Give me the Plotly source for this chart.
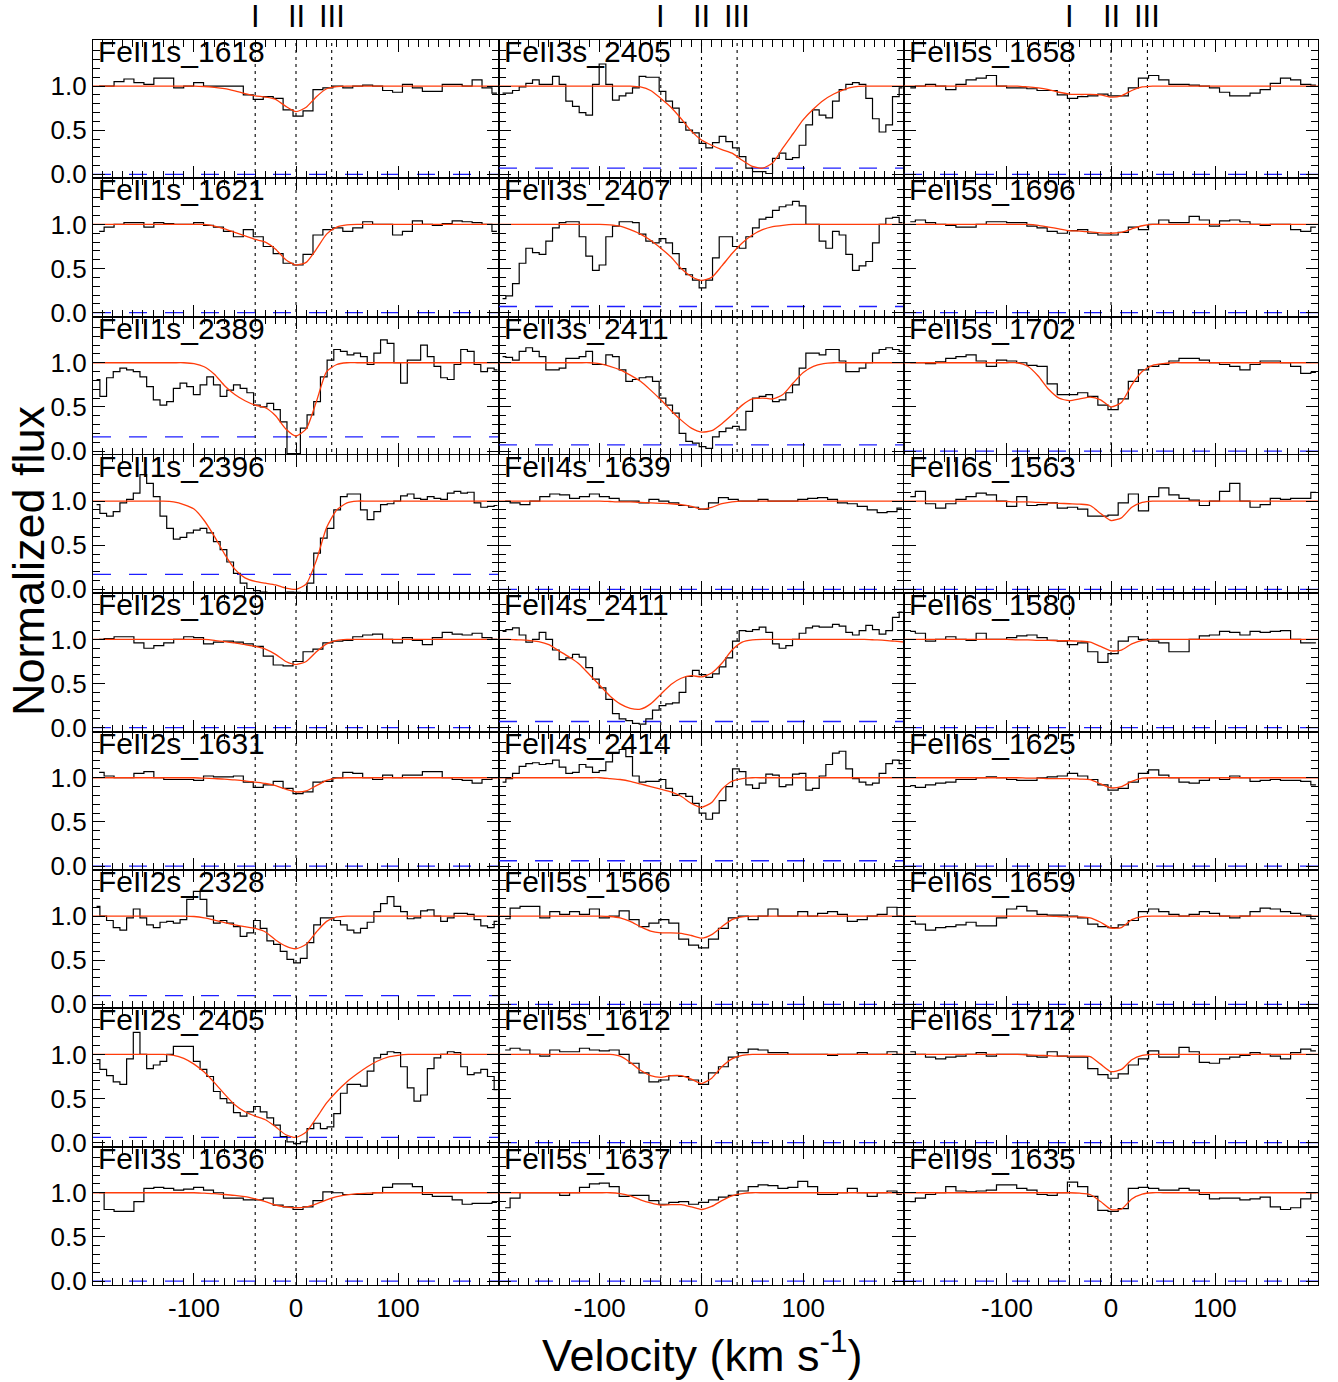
import plotly.graph_objects as go
from plotly.subplots import make_subplots

# ---------------------------------------------------------------------------
# Velocity grids (km/s): pixel centres of the two spectral samplings and the
# sampling of the fitted Voigt model.
# ---------------------------------------------------------------------------
VEL_COARSE = [-193.0, -183.2, -173.5, -163.8, -154.0, -144.2, -134.5, -124.8, -115.0, -105.2,
              -95.5, -85.8, -76.0, -66.2, -56.5, -46.8, -37.0, -27.2, -17.5, -7.8,
              2.0, 11.8, 21.5, 31.2, 41.0, 50.8, 60.5, 70.2, 80.0, 89.8,
              99.5, 109.2, 119.0, 128.8, 138.5, 148.2, 158.0, 167.8, 177.5, 187.2, 197.0]

VEL_FINE = [-195.5, -189.0, -182.4, -175.9, -169.3, -162.8, -156.2, -149.7, -143.1, -136.6,
            -130.0, -123.5, -116.9, -110.4, -103.8, -97.3, -90.7, -84.2, -77.6, -71.1,
            -64.5, -58.0, -51.4, -44.9, -38.3, -31.8, -25.2, -18.7, -12.1, -5.6,
            1.0, 7.6, 14.1, 20.7, 27.2, 33.8, 40.3, 46.9, 53.4, 60.0,
            66.5, 73.1, 79.6, 86.2, 92.7, 99.3, 105.8, 112.4, 118.9, 125.5,
            132.0, 138.6, 145.1, 151.7, 158.2, 164.8, 171.3, 177.9, 184.4, 191.0, 197.5]

VEL_MODEL = [-200, -190, -180, -170, -160, -150, -140, -130, -120, -110,
             -100, -90, -80, -70, -60, -50, -40, -30, -20, -10,
             0, 10, 20, 30, 40, 50, 60, 70, 80, 90,
             100, 110, 120, 130, 140, 150, 160, 170, 180, 190, 200]

# Component velocities (km/s) marked I, II, III
COMPONENT_VELS = [-40, 0, 35]
COMPONENT_NAMES = ["I", "II", "III"]

# ---------------------------------------------------------------------------
# Normalized flux of each transition
# ---------------------------------------------------------------------------
FLUX_1S_1618 = [1.0, 1.0, 1.05, 1.08, 1.04, 1.02, 1.09, 1.09, 0.98, 1.0,
                1.04, 1.0, 1.0, 1.0, 1.0, 0.9, 0.85, 0.88, 0.86, 0.73,
                0.66, 0.72, 0.96, 0.98, 1.0, 0.98, 1.0, 1.01, 1.0, 0.95,
                0.93, 1.02, 0.98, 0.94, 0.94, 1.02, 1.02, 1.0, 1.07, 0.98, 0.92]
FLUX_1S_1621 = [0.92, 0.97, 1.0, 1.02, 1.02, 0.97, 1.02, 1.01, 1.0, 1.0,
                1.02, 0.99, 0.97, 0.92, 0.86, 0.94, 0.86, 0.75, 0.67, 0.56,
                0.54, 0.66, 0.88, 0.94, 0.96, 0.92, 0.96, 1.03, 1.0, 1.0,
                0.88, 0.92, 1.04, 1.0, 0.99, 1.01, 1.04, 1.03, 1.02, 1.0, 0.92]
FLUX_1S_2389 = [0.81, 0.62, 0.83, 0.90, 0.94, 0.92, 0.90, 0.84, 0.73, 0.58,
                0.52, 0.56, 0.71, 0.77, 0.73, 0.64, 0.75, 0.84, 0.75, 0.62,
                0.69, 0.75, 0.71, 0.66, 0.52, 0.50, 0.54, 0.47, 0.33, -0.03,
                -0.03, 0.26, 0.41, 0.56, 0.84, 1.03, 1.15, 1.13, 1.09, 1.11,
                1.07, 0.98, 1.11, 1.26, 1.22, 1.0, 0.77, 1.03, 1.03, 1.2,
                1.07, 0.96, 0.83, 0.81, 0.98, 1.15, 1.13, 0.98, 0.90, 0.94, 0.92]
FLUX_1S_2396 = [0.96, 0.86, 0.83, 0.88, 0.98, 1.02, 1.09, 1.3, 1.2, 1.05,
                0.83, 0.69, 0.57, 0.59, 0.64, 0.67, 0.69, 0.64, 0.54, 0.45,
                0.31, 0.18, 0.07, 0.01, -0.015, -0.03, -0.04, -0.045, -0.04, -0.03,
                -0.035, -0.04, 0.07, 0.41, 0.58, 0.69, 0.9, 1.05, 1.08, 1.08,
                0.9, 0.79, 0.88, 0.96, 0.97, 1.0, 1.06, 1.08, 1.03, 1.02,
                1.05, 1.03, 1.02, 1.09, 1.11, 1.09, 1.1, 0.98, 0.93, 0.94, 0.95]
FLUX_2S_1629 = [1.0, 1.01, 1.03, 1.03, 0.96, 0.9, 0.93, 0.96, 1.0, 1.03,
                1.02, 0.95, 0.97, 0.98, 0.97, 0.95, 0.92, 0.81, 0.71, 0.7,
                0.75, 0.86, 0.89, 0.96, 0.98, 0.99, 1.03, 1.05, 1.06, 1.0,
                0.96, 1.02, 0.99, 0.94, 1.02, 1.08, 1.06, 1.05, 1.07, 1.02, 1.0]
FLUX_2S_1631 = [1.06, 1.02, 1.0, 1.0, 1.05, 1.07, 1.0, 0.98, 0.98, 0.98,
                0.97, 1.02, 1.01, 1.01, 1.02, 0.95, 0.89, 0.92, 0.96, 0.88,
                0.82, 0.84, 0.95, 0.96, 1.0, 1.06, 1.05, 1.0, 0.98, 1.03,
                1.0, 1.03, 1.03, 1.07, 1.07, 1.0, 0.98, 0.97, 0.94, 0.98, 1.0]
FLUX_2S_2328 = [1.11, 1.0, 0.95, 0.87, 0.84, 0.98, 1.08, 0.98, 0.9, 0.87,
                0.93, 0.94, 0.92, 0.96, 1.19, 1.28, 1.19, 1.0, 0.92, 0.95,
                0.92, 0.88, 0.77, 0.81, 0.95, 0.86, 0.72, 0.68, 0.6, 0.51,
                0.47, 0.52, 0.7, 0.9, 0.98, 0.98, 0.95, 0.9, 0.84, 0.81,
                0.86, 0.93, 1.05, 1.14, 1.22, 1.11, 1.05, 0.97, 0.98, 1.06,
                1.07, 1.0, 0.94, 0.98, 1.03, 1.03, 1.02, 0.96, 0.89, 0.87, 0.94]
FLUX_2S_2405 = [0.94, 0.83, 0.76, 0.69, 0.66, 0.95, 1.25, 1.0, 0.84, 0.88,
                0.92, 1.0, 1.09, 1.09, 1.09, 0.92, 0.83, 0.75, 0.58, 0.5,
                0.45, 0.34, 0.3, 0.35, 0.41, 0.35, 0.28, 0.2, 0.07, 0.01,
                -0.01, 0.01, 0.16, 0.22, 0.16, 0.18, 0.33, 0.56, 0.66, 0.66,
                0.64, 0.81, 0.96, 1.0, 1.03, 1.02, 0.86, 0.62, 0.47, 0.54,
                0.84, 0.96, 1.0, 1.03, 1.02, 0.86, 0.77, 0.79, 0.83, 0.75, 0.6]
FLUX_3S_1636 = [1.0, 0.81, 0.79, 0.79, 0.9, 1.05, 1.06, 1.05, 1.03, 1.04,
                1.06, 1.03, 1.0, 0.94, 0.94, 0.92, 0.92, 0.94, 0.86, 0.84,
                0.81, 0.84, 0.91, 1.01, 1.0, 0.98, 0.98, 0.98, 1.0, 1.06,
                1.1, 1.1, 1.07, 0.98, 0.96, 0.96, 0.92, 0.87, 0.88, 0.88, 0.89]
FLUX_3S_2405 = [0.92, 0.92, 0.95, 0.99, 1.03, 1.07, 1.02, 1.02, 1.11, 1.02,
                0.83, 0.77, 0.70, 0.67, 1.02, 1.25, 1.02, 0.84, 0.89, 0.92,
                0.98, 1.11, 1.10, 1.10, 0.94, 0.83, 0.75, 0.59, 0.50, 0.47,
                0.35, 0.30, 0.36, 0.43, 0.37, 0.30, 0.20, 0.07, 0.03, 0.03,
                0.01, 0.18, 0.24, 0.17, 0.19, 0.33, 0.56, 0.73, 0.67, 0.64,
                0.83, 0.96, 1.02, 1.04, 1.02, 0.86, 0.63, 0.48, 0.56, 0.88, 0.98]
FLUX_3S_2407 = [0.16, 0.19, 0.33, 0.56, 0.73, 0.68, 0.66, 0.81, 0.96, 1.02,
                1.03, 1.03, 0.86, 0.64, 0.48, 0.54, 0.86, 0.98, 1.03, 1.03,
                1.02, 0.89, 0.81, 0.79, 0.84, 0.79, 0.67, 0.5, 0.43, 0.37,
                0.28, 0.37, 0.62, 0.86, 0.86, 0.75, 0.73, 0.86, 0.96, 1.06,
                1.08, 1.16, 1.2, 1.22, 1.26, 1.21, 1.0, 1.0, 0.81, 0.73,
                0.92, 0.88, 0.66, 0.48, 0.53, 0.58, 0.79, 1.0, 1.07, 1.08, 1.02]
FLUX_3S_2411 = [1.07, 1.06, 1.03, 1.13, 1.17, 1.13, 1.07, 0.92, 0.92, 0.94,
                1.05, 1.05, 1.07, 1.13, 0.98, 0.98, 1.09, 1.07, 0.92, 0.79,
                0.81, 0.83, 0.84, 0.79, 0.6, 0.52, 0.43, 0.2, 0.11, 0.09,
                0.05, 0.03, 0.16, 0.22, 0.26, 0.28, 0.24, 0.45, 0.6, 0.62,
                0.64, 0.56, 0.58, 0.66, 0.75, 0.94, 1.11, 1.11, 1.09, 1.15,
                1.15, 1.02, 0.9, 0.9, 0.94, 1.0, 1.11, 1.15, 1.17, 1.15, 1.13]
FLUX_4S_1639 = [1.0, 0.98, 0.96, 1.0, 1.05, 1.08, 1.07, 1.03, 1.05, 1.08,
                1.05, 1.03, 1.0, 1.0, 0.98, 1.02, 1.0, 0.98, 0.95, 0.93,
                0.91, 0.98, 1.04, 1.02, 1.0, 1.0, 1.02, 1.0, 1.0, 1.0,
                1.02, 1.03, 1.04, 1.02, 0.98, 0.97, 0.94, 0.9, 0.87, 0.88, 0.92]
FLUX_4S_2411 = [1.09, 1.11, 1.13, 1.05, 0.97, 1.0, 1.08, 1.0, 0.88, 0.77,
                0.79, 0.83, 0.8, 0.68, 0.55, 0.45, 0.32, 0.16, 0.1, 0.08,
                0.05, 0.04, 0.1, 0.2, 0.25, 0.27, 0.28, 0.4, 0.58, 0.65,
                0.6, 0.57, 0.61, 0.69, 0.79, 0.98, 1.1, 1.09, 1.11, 1.14,
                1.08, 0.95, 0.9, 0.93, 1.0, 1.07, 1.13, 1.15, 1.14, 1.14,
                1.17, 1.15, 1.08, 1.05, 1.1, 1.16, 1.11, 1.06, 1.1, 1.25, 1.31]
FLUX_4S_2414 = [0.95, 0.99, 1.05, 1.13, 1.16, 1.17, 1.15, 1.16, 1.2, 1.12,
                1.05, 1.06, 1.15, 1.12, 1.06, 1.08, 1.18, 1.28, 1.32, 1.24,
                1.02, 0.95, 0.96, 0.96, 0.98, 0.88, 0.8, 0.82, 0.79, 0.71,
                0.6, 0.53, 0.6, 0.74, 0.9, 1.1, 1.07, 0.92, 0.88, 0.94,
                1.04, 1.03, 0.9, 0.92, 1.04, 1.05, 0.86, 0.88, 1.02, 1.15,
                1.28, 1.3, 1.1, 0.99, 0.95, 0.92, 0.94, 1.05, 1.16, 1.2, 1.16]
FLUX_5S_1566 = [0.97, 1.09, 1.11, 1.11, 0.98, 1.05, 1.02, 1.05, 1.02, 1.08,
                0.98, 1.0, 1.06, 0.96, 0.88, 0.92, 0.96, 0.92, 0.74, 0.67,
                0.64, 0.74, 0.86, 0.98, 1.0, 0.96, 1.0, 1.08, 1.0, 1.0,
                1.05, 1.0, 1.03, 1.05, 1.02, 0.94, 0.96, 1.0, 1.02, 1.1, 1.0]
FLUX_5S_1612 = [1.05, 1.07, 1.05, 1.0, 0.98, 1.05, 1.03, 1.03, 1.07, 1.05,
                1.04, 1.05, 1.0, 0.9, 0.79, 0.69, 0.71, 0.76, 0.75, 0.71,
                0.66, 0.79, 0.86, 0.97, 1.02, 1.06, 1.05, 1.02, 1.02, 1.0,
                1.0, 1.0, 1.0, 0.99, 1.0, 1.0, 1.02, 1.0, 1.0, 1.03, 1.0]
FLUX_5S_1637 = [0.83, 0.94, 1.0, 1.0, 1.0, 1.0, 0.97, 1.0, 1.06, 1.1,
                1.11, 1.07, 0.96, 0.97, 0.97, 0.91, 0.87, 0.89, 0.9, 0.87,
                0.89, 0.92, 0.95, 0.97, 1.02, 1.07, 1.09, 1.08, 1.05, 1.06,
                1.13, 1.07, 0.98, 0.98, 1.0, 1.05, 1.0, 0.96, 1.0, 1.02, 0.98]
FLUX_5S_1658 = [0.98, 1.0, 1.02, 1.0, 0.96, 1.02, 1.07, 1.09, 1.12, 1.0,
                0.98, 0.98, 0.97, 0.95, 0.95, 0.9, 0.86, 0.88, 0.89, 0.91,
                0.89, 0.89, 0.98, 1.09, 1.12, 1.07, 1.02, 1.02, 1.01, 1.0,
                0.98, 0.93, 0.89, 0.89, 0.92, 0.96, 1.03, 1.09, 1.07, 1.02, 1.01]
FLUX_5S_1696 = [1.03, 1.05, 1.02, 1.0, 0.99, 0.97, 0.97, 1.0, 1.03, 1.03,
                1.02, 1.02, 0.98, 0.96, 0.92, 0.9, 0.93, 0.94, 0.9, 0.88,
                0.88, 0.91, 0.97, 0.94, 1.0, 1.05, 1.02, 1.02, 1.09, 1.05,
                0.98, 1.04, 1.05, 1.03, 1.0, 0.99, 1.0, 1.0, 0.94, 0.92, 0.97]
FLUX_5S_1702 = [1.0, 1.0, 0.99, 1.01, 1.05, 1.07, 1.09, 1.02, 0.96, 1.03,
                1.02, 1.0, 0.97, 0.96, 0.76, 0.64, 0.64, 0.66, 0.62, 0.52,
                0.47, 0.59, 0.79, 0.92, 0.96, 0.98, 1.02, 1.05, 1.05, 1.03,
                1.0, 0.98, 0.96, 0.92, 0.98, 1.02, 1.02, 1.0, 0.96, 0.88, 0.89]
FLUX_6S_1563 = [1.05, 1.11, 0.97, 0.92, 0.97, 1.02, 1.05, 1.09, 1.07, 1.0,
                0.94, 1.05, 0.95, 0.96, 0.98, 0.92, 0.93, 0.91, 0.83, 0.83,
                0.84, 0.98, 1.08, 0.89, 1.05, 1.15, 1.07, 1.03, 1.01, 0.95,
                1.0, 1.11, 1.2, 1.0, 0.93, 0.96, 1.03, 1.02, 1.03, 1.03, 1.1]
FLUX_6S_1580 = [1.09, 1.07, 0.98, 1.0, 1.03, 1.0, 0.99, 1.07, 1.0, 1.0,
                1.02, 1.04, 1.05, 1.02, 0.99, 0.98, 0.94, 0.96, 0.86, 0.74,
                0.84, 0.98, 1.03, 1.0, 0.98, 0.96, 0.86, 0.86, 1.0, 1.04,
                1.05, 1.09, 1.08, 1.05, 1.09, 1.08, 1.09, 1.1, 1.0, 0.96, 0.96]
FLUX_6S_1625 = [0.91, 0.89, 0.92, 0.94, 0.95, 0.98, 0.98, 1.0, 1.01, 1.0,
                0.98, 0.97, 0.97, 1.0, 1.01, 1.02, 1.05, 1.02, 0.98, 0.92,
                0.86, 0.88, 0.95, 1.05, 1.09, 1.03, 1.0, 0.95, 0.94, 0.97,
                1.0, 0.98, 1.02, 1.0, 0.96, 0.97, 0.98, 0.97, 0.97, 0.96, 0.92]
FLUX_6S_1659 = [0.94, 0.91, 0.84, 0.87, 0.88, 0.9, 0.93, 0.89, 0.89, 0.98,
                1.08, 1.11, 1.06, 1.02, 1.01, 1.01, 1.0, 0.98, 0.91, 0.88,
                0.87, 0.9, 0.95, 1.05, 1.08, 1.05, 1.02, 1.0, 1.02, 1.05,
                1.03, 1.0, 0.98, 1.0, 1.05, 1.09, 1.08, 1.05, 1.03, 1.01, 0.97]
FLUX_6S_1712 = [1.03, 1.0, 0.97, 0.95, 0.97, 0.98, 1.0, 1.02, 0.98, 1.0,
                1.0, 1.0, 0.98, 0.97, 1.03, 0.98, 0.97, 0.97, 0.84, 0.77,
                0.73, 0.78, 0.88, 0.95, 1.04, 0.97, 0.97, 1.08, 1.03, 0.91,
                0.9, 0.95, 0.97, 0.99, 1.02, 1.0, 0.98, 0.95, 1.02, 1.06, 1.04]
FLUX_9S_1635 = [0.9, 0.94, 0.98, 1.0, 1.07, 1.02, 1.01, 1.02, 1.03, 1.09,
                1.09, 1.05, 1.03, 0.98, 0.97, 1.0, 1.12, 1.07, 0.96, 0.8,
                0.79, 0.82, 1.05, 1.06, 1.05, 1.03, 1.03, 1.05, 1.03, 0.98,
                0.93, 0.94, 0.94, 0.92, 0.93, 0.95, 0.84, 0.81, 0.83, 0.93, 1.0]

# ---------------------------------------------------------------------------
# Fitted model profiles on VEL_MODEL
# ---------------------------------------------------------------------------
MODEL_1S_1618 = [1.0, 1.0, 1.0, 1.0, 1.0, 1.0, 1.0, 1.0, 1.0, 1.0,
                 1.0, 0.995, 0.985, 0.97, 0.945, 0.915, 0.89, 0.875, 0.85, 0.77,
                 0.71, 0.76, 0.88, 0.97, 0.995, 1.0, 1.0, 1.0, 1.0, 1.0,
                 1.0, 1.0, 1.0, 1.0, 1.0, 1.0, 1.0, 1.0, 1.0, 1.0, 1.0]
MODEL_1S_1621 = [1.0, 1.0, 1.0, 1.0, 1.0, 1.0, 1.0, 1.0, 1.0, 1.0,
                 1.0, 1.0, 0.98, 0.95, 0.91, 0.87, 0.83, 0.8, 0.72, 0.6,
                 0.54, 0.57, 0.72, 0.89, 0.97, 0.995, 1.0, 1.0, 1.0, 1.0,
                 1.0, 1.0, 1.0, 1.0, 1.0, 1.0, 1.0, 1.0, 1.0, 1.0, 1.0]
MODEL_1S_2389 = [1.0, 1.0, 1.0, 1.0, 1.0, 1.0, 1.0, 1.0, 1.0, 1.0,
                 0.99, 0.955, 0.87, 0.74, 0.64, 0.57, 0.52, 0.49, 0.40, 0.25,
                 0.17, 0.25, 0.56, 0.9, 0.98, 1.0, 1.0, 1.0, 1.0, 1.0,
                 1.0, 1.0, 1.0, 1.0, 1.0, 1.0, 1.0, 1.0, 1.0, 1.0, 1.0]
MODEL_1S_2396 = [1.0, 1.0, 1.0, 1.0, 1.0, 1.0, 1.0, 1.0, 0.99, 0.96,
                 0.91, 0.78, 0.6, 0.4, 0.23, 0.13, 0.09, 0.07, 0.05, 0.015,
                 0.0, 0.06, 0.33, 0.7, 0.9, 0.98, 1.0, 1.0, 1.0, 1.0,
                 1.0, 1.0, 1.0, 1.0, 1.0, 1.0, 1.0, 1.0, 1.0, 1.0, 1.0]
MODEL_2S_1629 = [1.0, 1.0, 1.0, 1.0, 1.0, 1.0, 1.0, 1.0, 1.0, 1.0,
                 1.0, 1.0, 0.99, 0.975, 0.96, 0.94, 0.92, 0.89, 0.83, 0.75,
                 0.715, 0.75, 0.86, 0.95, 0.99, 1.0, 1.0, 1.0, 1.0, 1.0,
                 1.0, 1.0, 1.0, 1.0, 1.0, 1.0, 1.0, 1.0, 1.0, 1.0, 1.0]
MODEL_2S_1631 = [1.0, 1.0, 1.0, 1.0, 1.0, 1.0, 1.0, 1.0, 1.0, 1.0,
                 1.0, 0.995, 0.99, 0.985, 0.975, 0.965, 0.95, 0.935, 0.91, 0.87,
                 0.84, 0.85, 0.91, 0.97, 0.995, 1.0, 1.0, 1.0, 1.0, 1.0,
                 1.0, 1.0, 1.0, 1.0, 1.0, 1.0, 1.0, 1.0, 1.0, 1.0, 1.0]
MODEL_2S_2328 = [1.0, 1.0, 1.0, 1.0, 1.0, 1.0, 1.0, 1.0, 1.0, 1.0,
                 0.995, 0.98, 0.955, 0.925, 0.9, 0.88, 0.86, 0.82, 0.73, 0.66,
                 0.63, 0.68, 0.82, 0.94, 0.99, 1.0, 1.0, 1.0, 1.0, 1.0,
                 1.0, 1.0, 1.0, 1.0, 1.0, 1.0, 1.0, 1.0, 1.0, 1.0, 1.0]
MODEL_2S_2405 = [1.0, 1.0, 1.0, 1.0, 1.0, 1.0, 1.0, 1.0, 0.99, 0.955,
                 0.89, 0.8, 0.68, 0.55, 0.43, 0.35, 0.3, 0.26, 0.18, 0.09,
                 0.06, 0.12, 0.28, 0.45, 0.58, 0.69, 0.78, 0.86, 0.925, 0.97,
                 0.99, 1.0, 1.0, 1.0, 1.0, 1.0, 1.0, 1.0, 1.0, 1.0, 1.0]
MODEL_3S_1636 = [1.0, 1.0, 1.0, 1.0, 1.0, 1.0, 1.0, 1.0, 1.0, 1.0,
                 1.0, 0.995, 0.99, 0.98, 0.97, 0.955, 0.93, 0.9, 0.86, 0.84,
                 0.83, 0.84, 0.875, 0.92, 0.955, 0.975, 0.99, 0.995, 1.0, 1.0,
                 1.0, 1.0, 1.0, 1.0, 1.0, 1.0, 1.0, 1.0, 1.0, 1.0, 1.0]
MODEL_3S_2405 = [1.0, 1.0, 1.0, 1.0, 1.0, 1.0, 1.0, 1.0, 1.0, 1.0,
                 1.0, 1.0, 1.0, 1.0, 0.99, 0.95, 0.86, 0.76, 0.63, 0.49,
                 0.39, 0.33, 0.28, 0.24, 0.16, 0.09, 0.07, 0.13, 0.3, 0.46,
                 0.62, 0.74, 0.84, 0.91, 0.96, 0.99, 1.0, 1.0, 1.0, 1.0, 1.0]
MODEL_3S_2407 = [1.0, 1.0, 1.0, 1.0, 1.0, 1.0, 1.0, 1.0, 1.0, 1.0,
                 1.0, 0.995, 0.98, 0.94, 0.89, 0.82, 0.73, 0.63, 0.5, 0.41,
                 0.365, 0.4, 0.53, 0.67, 0.79, 0.88, 0.94, 0.975, 0.99, 1.0,
                 1.0, 1.0, 1.0, 1.0, 1.0, 1.0, 1.0, 1.0, 1.0, 1.0, 1.0]
MODEL_3S_2411 = [1.0, 1.0, 1.0, 1.0, 1.0, 1.0, 1.0, 1.0, 1.0, 1.0,
                 0.99, 0.96, 0.92, 0.86, 0.79, 0.69, 0.58, 0.46, 0.35, 0.26,
                 0.215, 0.23, 0.31, 0.41, 0.52, 0.59, 0.6, 0.59, 0.64, 0.77,
                 0.89, 0.96, 0.99, 1.0, 1.0, 1.0, 1.0, 1.0, 1.0, 1.0, 1.0]
MODEL_4S_1639 = [1.0, 1.0, 1.0, 1.0, 1.0, 1.0, 1.0, 1.0, 1.0, 1.0,
                 1.0, 0.995, 0.99, 0.99, 0.985, 0.98, 0.975, 0.97, 0.96, 0.94,
                 0.91, 0.93, 0.97, 0.99, 1.0, 1.0, 1.0, 1.0, 1.0, 1.0,
                 1.0, 1.0, 1.0, 1.0, 1.0, 1.0, 1.0, 1.0, 1.0, 1.0, 1.0]
MODEL_4S_2411 = [1.0, 1.0, 0.995, 0.99, 0.975, 0.94, 0.87, 0.8, 0.72, 0.6,
                 0.48, 0.36, 0.27, 0.22, 0.21, 0.27, 0.38, 0.49, 0.56, 0.59,
                 0.575, 0.62, 0.73, 0.88, 0.97, 0.995, 1.0, 1.0, 1.0, 1.0,
                 1.0, 1.0, 1.0, 1.0, 1.0, 1.0, 1.0, 0.995, 0.99, 0.98, 0.97]
MODEL_4S_2414 = [1.0, 1.0, 1.0, 1.0, 1.0, 1.0, 1.0, 1.0, 1.0, 1.0,
                 1.0, 0.99, 0.98, 0.96, 0.93, 0.9, 0.87, 0.84, 0.79, 0.71,
                 0.665, 0.72, 0.87, 0.96, 0.99, 1.0, 1.0, 1.0, 1.0, 1.0,
                 1.0, 1.0, 1.0, 1.0, 1.0, 1.0, 1.0, 1.0, 1.0, 1.0, 1.0]
MODEL_5S_1566 = [1.0, 1.0, 1.0, 1.0, 1.0, 1.0, 1.0, 1.0, 1.0, 1.0,
                 1.0, 0.995, 0.98, 0.94, 0.88, 0.83, 0.81, 0.81, 0.805, 0.78,
                 0.75, 0.79, 0.88, 0.96, 0.99, 1.0, 1.0, 1.0, 1.0, 1.0,
                 1.0, 1.0, 1.0, 1.0, 1.0, 1.0, 1.0, 1.0, 1.0, 1.0, 1.0]
MODEL_5S_1612 = [1.0, 1.0, 1.0, 1.0, 1.0, 1.0, 1.0, 1.0, 1.0, 1.0,
                 1.0, 1.0, 0.98, 0.91, 0.82, 0.76, 0.74, 0.76, 0.76, 0.72,
                 0.67, 0.73, 0.86, 0.95, 0.99, 1.0, 1.0, 1.0, 1.0, 1.0,
                 1.0, 1.0, 1.0, 1.0, 1.0, 1.0, 1.0, 1.0, 1.0, 1.0, 1.0]
MODEL_5S_1637 = [1.0, 1.0, 1.0, 1.0, 1.0, 1.0, 1.0, 1.0, 1.0, 1.0,
                 1.0, 1.0, 0.99, 0.965, 0.92, 0.885, 0.86, 0.865, 0.865, 0.84,
                 0.81, 0.845, 0.91, 0.965, 0.99, 1.0, 1.0, 1.0, 1.0, 1.0,
                 1.0, 1.0, 1.0, 1.0, 1.0, 1.0, 1.0, 1.0, 1.0, 1.0, 1.0]
MODEL_5S_1658 = [1.0, 1.0, 1.0, 1.0, 1.0, 1.0, 1.0, 1.0, 1.0, 1.0,
                 1.0, 1.0, 0.99, 0.98, 0.96, 0.93, 0.91, 0.905, 0.905, 0.9,
                 0.875, 0.89, 0.95, 0.99, 1.0, 1.0, 1.0, 1.0, 1.0, 1.0,
                 1.0, 1.0, 1.0, 1.0, 1.0, 1.0, 1.0, 1.0, 1.0, 1.0, 1.0]
MODEL_5S_1696 = [1.0, 1.0, 1.0, 1.0, 1.0, 1.0, 1.0, 1.0, 1.0, 1.0,
                 1.0, 1.0, 1.0, 0.99, 0.97, 0.95, 0.93, 0.925, 0.915, 0.905,
                 0.9, 0.91, 0.95, 0.985, 1.0, 1.0, 1.0, 1.0, 1.0, 1.0,
                 1.0, 1.0, 1.0, 1.0, 1.0, 1.0, 1.0, 1.0, 1.0, 1.0, 1.0]
MODEL_5S_1702 = [1.0, 1.0, 1.0, 1.0, 1.0, 1.0, 1.0, 1.0, 1.0, 1.0,
                 1.0, 1.0, 0.96, 0.85, 0.7, 0.6, 0.57, 0.59, 0.61, 0.58,
                 0.5, 0.55, 0.75, 0.9, 0.97, 0.99, 1.0, 1.0, 1.0, 1.0,
                 1.0, 1.0, 1.0, 1.0, 1.0, 1.0, 1.0, 1.0, 1.0, 1.0, 1.0]
MODEL_6S_1563 = [1.0, 1.0, 1.0, 1.0, 1.0, 1.0, 1.0, 1.0, 1.0, 1.0,
                 0.995, 0.99, 0.99, 0.985, 0.98, 0.975, 0.97, 0.965, 0.95, 0.86,
                 0.78, 0.81, 0.93, 0.985, 1.0, 1.0, 1.0, 1.0, 1.0, 1.0,
                 1.0, 1.0, 1.0, 1.0, 1.0, 1.0, 1.0, 1.0, 1.0, 1.0, 1.0]
MODEL_6S_1580 = [1.0, 1.0, 1.0, 1.0, 1.0, 1.0, 1.0, 1.0, 1.0, 1.0,
                 1.0, 0.995, 0.995, 0.99, 0.99, 0.985, 0.985, 0.98, 0.97, 0.92,
                 0.87, 0.88, 0.95, 0.99, 1.0, 1.0, 1.0, 1.0, 1.0, 1.0,
                 1.0, 1.0, 1.0, 1.0, 1.0, 1.0, 1.0, 1.0, 1.0, 1.0, 1.0]
MODEL_6S_1625 = [1.0, 1.0, 1.0, 1.0, 1.0, 1.0, 1.0, 1.0, 1.0, 1.0,
                 1.0, 1.0, 0.995, 0.995, 0.99, 0.99, 0.99, 0.985, 0.98, 0.93,
                 0.885, 0.9, 0.96, 0.995, 1.0, 1.0, 1.0, 1.0, 1.0, 1.0,
                 1.0, 1.0, 1.0, 1.0, 1.0, 1.0, 1.0, 1.0, 1.0, 1.0, 1.0]
MODEL_6S_1659 = [1.0, 1.0, 1.0, 1.0, 1.0, 1.0, 1.0, 1.0, 1.0, 1.0,
                 1.0, 1.0, 1.0, 1.0, 1.0, 0.995, 0.99, 0.99, 0.98, 0.93,
                 0.865, 0.87, 0.96, 0.995, 1.0, 1.0, 1.0, 1.0, 1.0, 1.0,
                 1.0, 1.0, 1.0, 1.0, 1.0, 1.0, 1.0, 1.0, 1.0, 1.0, 1.0]
MODEL_6S_1712 = [1.0, 1.0, 1.0, 1.0, 1.0, 1.0, 1.0, 1.0, 1.0, 1.0,
                 1.0, 1.0, 0.995, 0.99, 0.985, 0.98, 0.98, 0.98, 0.975, 0.89,
                 0.805, 0.83, 0.94, 0.99, 1.0, 1.0, 1.0, 1.0, 1.0, 1.0,
                 1.0, 1.0, 1.0, 1.0, 1.0, 1.0, 1.0, 1.0, 1.0, 1.0, 1.0]
MODEL_9S_1635 = [1.0, 1.0, 1.0, 1.0, 1.0, 1.0, 1.0, 1.0, 1.0, 1.0,
                 1.0, 1.0, 1.0, 1.0, 1.0, 1.0, 1.0, 0.995, 0.98, 0.9,
                 0.81, 0.815, 0.93, 0.985, 1.0, 1.0, 1.0, 1.0, 1.0, 1.0,
                 1.0, 1.0, 1.0, 1.0, 1.0, 1.0, 1.0, 1.0, 1.0, 1.0, 1.0]

# Transition names and 1-sigma error level, column by column (top to bottom)
LABELS = ["FeII1s_1618", "FeII1s_1621", "FeII1s_2389", "FeII1s_2396", "FeII2s_1629",
          "FeII2s_1631", "FeII2s_2328", "FeII2s_2405", "FeII3s_1636",
          "FeII3s_2405", "FeII3s_2407", "FeII3s_2411", "FeII4s_1639", "FeII4s_2411",
          "FeII4s_2414", "FeII5s_1566", "FeII5s_1612", "FeII5s_1637",
          "FeII5s_1658", "FeII5s_1696", "FeII5s_1702", "FeII6s_1563", "FeII6s_1580",
          "FeII6s_1625", "FeII6s_1659", "FeII6s_1712", "FeII9s_1635"]
NOISE = [0.0, 0.0, 0.16, 0.17, 0.0, 0.0, 0.10, 0.06, 0.0,
         0.07, 0.07, 0.07, 0.0, 0.07, 0.06, 0.0, 0.0, 0.0,
         0.0, 0.0, 0.0, 0.0, 0.0, 0.0, 0.0, 0.0, 0.0]

# Spectra table: (pixel velocities, flux, model)
SPECTRA = [
    (VEL_COARSE, FLUX_1S_1618, MODEL_1S_1618),
    (VEL_COARSE, FLUX_1S_1621, MODEL_1S_1621),
    (VEL_FINE, FLUX_1S_2389, MODEL_1S_2389),
    (VEL_FINE, FLUX_1S_2396, MODEL_1S_2396),
    (VEL_COARSE, FLUX_2S_1629, MODEL_2S_1629),
    (VEL_COARSE, FLUX_2S_1631, MODEL_2S_1631),
    (VEL_FINE, FLUX_2S_2328, MODEL_2S_2328),
    (VEL_FINE, FLUX_2S_2405, MODEL_2S_2405),
    (VEL_COARSE, FLUX_3S_1636, MODEL_3S_1636),
    (VEL_FINE, FLUX_3S_2405, MODEL_3S_2405),
    (VEL_FINE, FLUX_3S_2407, MODEL_3S_2407),
    (VEL_FINE, FLUX_3S_2411, MODEL_3S_2411),
    (VEL_COARSE, FLUX_4S_1639, MODEL_4S_1639),
    (VEL_FINE, FLUX_4S_2411, MODEL_4S_2411),
    (VEL_FINE, FLUX_4S_2414, MODEL_4S_2414),
    (VEL_COARSE, FLUX_5S_1566, MODEL_5S_1566),
    (VEL_COARSE, FLUX_5S_1612, MODEL_5S_1612),
    (VEL_COARSE, FLUX_5S_1637, MODEL_5S_1637),
    (VEL_COARSE, FLUX_5S_1658, MODEL_5S_1658),
    (VEL_COARSE, FLUX_5S_1696, MODEL_5S_1696),
    (VEL_COARSE, FLUX_5S_1702, MODEL_5S_1702),
    (VEL_COARSE, FLUX_6S_1563, MODEL_6S_1563),
    (VEL_COARSE, FLUX_6S_1580, MODEL_6S_1580),
    (VEL_COARSE, FLUX_6S_1625, MODEL_6S_1625),
    (VEL_COARSE, FLUX_6S_1659, MODEL_6S_1659),
    (VEL_COARSE, FLUX_6S_1712, MODEL_6S_1712),
    (VEL_COARSE, FLUX_9S_1635, MODEL_9S_1635),
]

# ---------------------------------------------------------------------------
# Figure
# ---------------------------------------------------------------------------
W, H = 1338, 1382
ML, MR, MT, MB = 93, 20, 40, 97
NROWS, NCOLS = 9, 3
FONT = "Liberation Sans, Arial, Helvetica, sans-serif"
XR = [-199, 199]
YR = [-0.045, 1.522]

fig = make_subplots(rows=NROWS, cols=NCOLS, column_widths=[406, 405, 414],
                    horizontal_spacing=0, vertical_spacing=0)

BLACK = "#000000"
RED = "rgb(255,60,10)"
BLUE = "rgb(30,30,255)"

for i, (label, (vel, flux, model), noise) in enumerate(zip(LABELS, SPECTRA, NOISE)):
    assert len(vel) == len(flux), label
    assert len(model) == len(VEL_MODEL), label
    col = i // NROWS + 1
    row = i % NROWS + 1
    # error level
    fig.add_trace(go.Scatter(x=XR, y=[noise, noise], mode="lines",
                             line=dict(color=BLUE, width=1.3, dash="18px,18px"),
                             hoverinfo="skip", showlegend=False), row=row, col=col)
    # data
    fig.add_trace(go.Scatter(x=vel, y=flux, mode="lines",
                             line=dict(color=BLACK, width=1.2, shape="hvh"),
                             showlegend=False), row=row, col=col)
    # model
    fig.add_trace(go.Scatter(x=VEL_MODEL, y=model, mode="lines",
                             line=dict(color=RED, width=1.3, shape="spline", smoothing=0.6),
                             showlegend=False), row=row, col=col)

    n = (row - 1) * NCOLS + col
    sfx = "" if n == 1 else str(n)
    fig.add_annotation(text=label, xref=f"x{sfx} domain", yref=f"y{sfx} domain",
                       x=0.008, y=1.0, xanchor="left", yanchor="top", showarrow=False,
                       yshift=7, font=dict(family=FONT, size=30, color=BLACK))

x_minor = [v for v in range(-190, 200, 10) if v % 100 != 0]
y_minor = [round(0.1 * k, 1) for k in range(1, 16) if k % 5 != 0]

fig.update_xaxes(range=XR, showgrid=False, zeroline=False, showline=True, mirror="allticks",
                 linecolor=BLACK, linewidth=1.3, ticks="inside", ticklen=12, tickwidth=1.1,
                 tickcolor=BLACK, tickmode="array", tickvals=[-100, 0, 100],
                 ticktext=["-100", "0", "100"], showticklabels=False,
                 tickfont=dict(family=FONT, size=26, color=BLACK),
                 minor=dict(ticks="inside", ticklen=7, tickwidth=1.0, tickcolor=BLACK,
                            tickmode="array", tickvals=x_minor))
fig.update_yaxes(range=YR, showgrid=False, zeroline=False, showline=True, mirror="allticks",
                 linecolor=BLACK, linewidth=1.3, ticks="inside", ticklen=12, tickwidth=1.1,
                 tickcolor=BLACK, tickmode="array", tickvals=[0, 0.5, 1.0],
                 ticktext=["0.0", "0.5", "1.0"], showticklabels=False,
                 tickfont=dict(family=FONT, size=26, color=BLACK),
                 minor=dict(ticks="inside", ticklen=7, tickwidth=1.0, tickcolor=BLACK,
                            tickmode="array", tickvals=y_minor))
for c in range(1, NCOLS + 1):
    fig.update_xaxes(showticklabels=True, row=NROWS, col=c)
for r in range(1, NROWS + 1):
    fig.update_yaxes(showticklabels=True, row=r, col=1)

# component markers: dotted verticals through every column, labels on top
for c in range(1, NCOLS + 1):
    xref = "x" if c == 1 else f"x{c}"
    for v, name in zip(COMPONENT_VELS, COMPONENT_NAMES):
        fig.add_shape(type="line", xref=xref, yref="paper", x0=v, x1=v, y0=0, y1=1,
                      line=dict(color=BLACK, width=1.1, dash="3px,4px"), layer="below")
        fig.add_annotation(text=name, xref=xref, yref="paper", x=v, y=1.0,
                           xanchor="center", yanchor="bottom", showarrow=False, yshift=5,
                           borderpad=0, font=dict(family=FONT, size=31, color=BLACK))

# axis titles
fig.add_annotation(text="Normalized flux", xref="paper", yref="paper",
                   x=(28 - ML) / (W - ML - MR), y=(H - MB - 561) / (H - MT - MB),
                   xanchor="center", yanchor="middle", textangle=-90, showarrow=False,
                   font=dict(family=FONT, size=45, color=BLACK))
fig.add_annotation(text="Velocity (km s<sup>-1</sup>)", xref="paper", yref="paper",
                   x=(702 - ML) / (W - ML - MR), y=(H - MB - 1352) / (H - MT - MB),
                   xanchor="center", yanchor="middle", showarrow=False,
                   font=dict(family=FONT, size=45, color=BLACK))

fig.update_layout(width=W, height=H, margin=dict(l=ML, r=MR, t=MT, b=MB),
                  paper_bgcolor="white", plot_bgcolor="white", showlegend=False)

fig.write_html("out.html")
